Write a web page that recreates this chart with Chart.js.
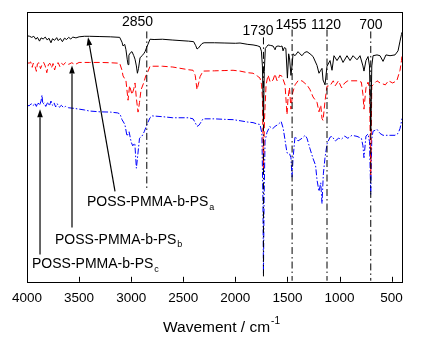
<!DOCTYPE html>
<html>
<head>
<meta charset="utf-8">
<script src="https://cdn.jsdelivr.net/npm/chart.js@4.4.1/dist/chart.umd.min.js"></script>
<style>
html, body { margin: 0; padding: 0; background: #fff; }
</style>
</head>
<body>
<canvas id="chart" width="422" height="348"></canvas>
<script>
// FTIR spectra of the three block copolymers (transmittance, arbitrary offset)
const xTicks = [4000, 3500, 3000, 2500, 2000, 1500, 1000, 500];

// POSS-PMMA-b-PSa (black, solid)
const specA = [[4000,91.2],[3975,91.0],[3955,90.6],[3935,91.0],[3915,89.9],[3900,90.6],[3880,89.2],[3865,90.4],[3845,90.0],[3825,90.7],
	[3805,89.6],[3790,90.3],[3770,88.6],[3755,90.1],[3735,89.5],[3715,90.5],[3700,89.4],[3680,90.2],[3660,89.0],[3640,90.3],
	[3620,89.8],[3600,90.6],[3580,90.0],[3560,90.7],[3530,90.4],[3500,90.8],[3450,91.0],[3400,91.0],[3300,90.9],[3200,90.8],
	[3110,90.6],[3088,88.8],[3078,87.4],[3062,88.0],[3050,86.0],[3038,82.5],[3030,80.5],[3022,84.0],[3005,85.0],[2992,85.3],
	[2975,83.8],[2963,82.5],[2950,80.0],[2940,77.3],[2930,79.0],[2915,83.0],[2896,83.8],[2880,84.5],[2867,85.3],[2850,87.0],
	[2838,88.1],[2819,89.9],[2780,89.8],[2700,89.9],[2600,89.6],[2450,89.2],[2400,89.0],[2380,87.5],[2368,86.3],[2355,86.6],
	[2339,87.4],[2320,88.3],[2300,88.6],[2200,88.6],[2100,88.5],[2000,88.4],[1955,88.5],[1880,88.0],[1830,87.8],[1790,87.5],
	[1763,87.1],[1750,85.5],[1740,80.0],[1730,59.4],[1722,78.0],[1712,86.5],[1700,87.1],[1686,87.8],[1660,87.6],[1638,87.4],
	[1625,86.5],[1619,86.0],[1608,87.2],[1590,87.4],[1565,87.2],[1552,87.4],[1542,85.6],[1530,86.8],[1515,86.5],[1500,75.5],
	[1488,84.5],[1480,83.0],[1466,76.5],[1456,80.0],[1446,84.5],[1427,83.8],[1398,85.3],[1380,84.5],[1360,83.8],[1335,85.0],
	[1312,85.3],[1283,84.5],[1254,83.5],[1216,80.2],[1197,77.3],[1180,78.4],[1168,79.1],[1158,74.8],[1139,73.0],[1120,79.9],
	[1091,82.0],[1072,78.4],[1053,83.8],[1024,82.0],[995,83.8],[966,81.3],[928,83.8],[899,82.0],[870,83.8],[832,82.3],
	[803,83.8],[775,80.0],[765,78.1],[746,82.0],[726,83.5],[712,80.0],[700,55.8],[690,80.0],[678,83.8],[640,84.1],
	[611,83.8],[582,81.7],[554,84.1],[515,83.8],[467,84.1],[438,85.6],[419,89.2],[405,91.7],[400,92.5]];

// POSS-PMMA-b-PSb (red, dashed)
const specB = [[4000,81.3],[3980,81.0],[3965,81.5],[3950,79.5],[3940,81.0],[3925,80.2],[3910,78.0],[3900,80.8],[3885,81.2],[3870,79.0],
	[3855,80.6],[3840,81.3],[3825,80.0],[3810,77.5],[3795,80.5],[3780,81.0],[3765,79.3],[3750,80.9],[3735,78.5],[3720,80.7],
	[3700,81.2],[3685,79.8],[3670,81.0],[3650,80.4],[3630,81.3],[3600,80.6],[3570,81.2],[3540,80.5],[3500,81.3],[3400,81.3],
	[3300,81.3],[3200,81.2],[3110,81.0],[3088,78.4],[3078,76.3],[3050,74.5],[3030,67.3],[3015,72.7],[2992,69.4],[2975,71.5],
	[2963,73.7],[2950,68.0],[2934,62.9],[2920,66.5],[2905,71.2],[2880,73.7],[2860,76.3],[2838,78.0],[2819,79.9],[2790,79.9],
	[2700,79.9],[2600,79.6],[2450,78.6],[2406,78.4],[2385,76.5],[2368,71.2],[2350,74.0],[2339,76.0],[2310,78.1],[2200,78.2],
	[2100,78.3],[2022,78.4],[1955,78.1],[1880,77.5],[1830,77.3],[1790,76.3],[1763,75.5],[1748,73.0],[1740,68.0],[1730,42.0],
	[1720,60.0],[1705,73.0],[1686,76.6],[1665,74.0],[1638,74.8],[1619,77.0],[1600,74.5],[1590,74.8],[1575,76.6],[1552,76.2],
	[1523,73.0],[1504,62.0],[1494,68.0],[1480,72.0],[1466,64.0],[1450,70.0],[1427,73.0],[1398,74.5],[1360,74.5],[1330,73.5],
	[1312,73.0],[1283,71.2],[1254,68.5],[1216,66.5],[1197,63.0],[1180,65.5],[1168,60.5],[1158,59.8],[1139,67.0],[1120,72.5],
	[1091,72.7],[1060,74.5],[1040,72.7],[1010,74.5],[980,71.9],[950,73.7],[920,74.5],[880,74.5],[832,74.5],[790,74.0],
	[775,69.4],[765,64.0],[746,71.9],[726,74.0],[712,72.0],[700,39.6],[690,72.5],[678,73.0],[640,74.5],[611,73.7],
	[560,73.0],[530,74.5],[490,73.7],[450,74.5],[419,78.4],[405,82.0],[400,84.0]];

// POSS-PMMA-b-PSc (blue, dash-dot)
const specC = [[4000,65.5],[3980,65.2],[3960,66.0],[3940,65.3],[3925,66.2],[3910,65.0],[3895,66.5],[3880,65.4],[3865,67.0],[3856,69.2],
	[3848,65.8],[3835,66.3],[3820,65.0],[3800,66.6],[3785,65.2],[3770,67.0],[3755,65.4],[3740,66.3],[3725,64.8],[3710,66.0],
	[3690,64.7],[3670,65.4],[3650,64.6],[3630,65.0],[3600,64.5],[3550,64.3],[3500,64.0],[3450,63.7],[3400,63.3],[3300,63.0],
	[3200,62.9],[3130,62.6],[3107,62.2],[3088,60.1],[3060,58.3],[3040,54.0],[3020,55.6],[3000,51.8],[2985,50.4],[2965,51.4],
	[2950,42.1],[2940,45.7],[2920,53.2],[2896,54.0],[2875,55.6],[2845,58.6],[2819,60.8],[2800,61.5],[2700,61.2],[2600,60.8],
	[2450,60.8],[2406,60.4],[2385,59.0],[2368,57.6],[2350,58.0],[2339,58.6],[2310,60.4],[2200,60.4],[2100,60.2],[2022,60.1],
	[1955,59.7],[1880,59.2],[1830,59.0],[1790,58.5],[1763,58.3],[1745,55.0],[1735,30.0],[1730,3.0],[1724,30.0],[1715,52.2],
	[1696,55.4],[1670,57.5],[1640,56.8],[1619,57.6],[1590,58.3],[1560,59.4],[1540,56.8],[1504,47.8],[1480,47.5],[1466,46.0],
	[1456,38.8],[1446,45.7],[1427,53.9],[1398,52.2],[1360,53.2],[1330,54.3],[1312,53.2],[1283,49.3],[1254,45.7],[1230,43.2],
	[1216,37.8],[1197,33.5],[1180,36.7],[1168,29.0],[1155,40.0],[1139,46.0],[1120,51.1],[1091,53.6],[1072,53.9],[1040,52.2],
	[1010,53.2],[980,52.9],[950,54.0],[920,53.2],[880,54.3],[832,53.9],[790,53.2],[775,50.4],[765,46.0],[746,54.0],
	[726,54.8],[712,52.0],[700,32.4],[690,53.0],[678,55.8],[640,56.5],[611,55.0],[582,54.3],[554,54.3],[515,54.3],
	[467,54.3],[438,55.0],[419,56.8],[405,59.4],[400,60.5]];

// marked bands
const peaks = [2850, 1730, 1455, 1120, 700];
const peakTop = [92.8, 90.6, 93.5, 93.5, 92.8];
const peakBottom = [33.8, 1.1, 0.4, 0.4, 0.4];
const peakLabelX = [2939, 1782, 1466, 1130, 698];
const peakLabelY = [96.4, 92.8, 95.3, 95.0, 95.3];

// sample names and their arrows
const samples = ["a", "b", "c"];
const nameX = [3424, 3731, 3952];
const nameY = [29.5, 15.5, 6.5];
const arrowFrom = [[3155, 33.5], [3568, 20.1], [3875, 10.1]];
const arrowTo = [[3414, 90.6], [3568, 80.2], [3875, 64.0]];

const FONT = "'Liberation Sans', Arial, Helvetica, sans-serif";
Chart.defaults.font.family = FONT;

function toXY(arr){
	return arr.map(p => ({x: p[0], y: p[1]}));
}

function drawArrow(ctx, x1, y1, x2, y2){
	let ang = Math.atan2(y2 - y1, x2 - x1);
	let len = 8, w = 2.8;
	let bx = x2 - len * Math.cos(ang), by = y2 - len * Math.sin(ang);
	ctx.beginPath();
	ctx.moveTo(x1, y1);
	ctx.lineTo(bx, by);
	ctx.stroke();
	ctx.beginPath();
	ctx.moveTo(x2, y2);
	ctx.lineTo(bx + w * Math.sin(ang), by - w * Math.cos(ang));
	ctx.lineTo(bx - w * Math.sin(ang), by + w * Math.cos(ang));
	ctx.closePath();
	ctx.fill();
}

const extras = {
	id: "extras",
	afterDraw(chart){
		let ctx = chart.ctx, a = chart.chartArea;
		let sx = chart.scales.x, sy = chart.scales.y;
		ctx.save();
		ctx.strokeStyle = "#000";
		ctx.fillStyle = "#000";
		ctx.lineWidth = 1;
		// frame
		ctx.strokeRect(Math.round(a.left) + 0.5, Math.round(a.top) + 0.5, Math.round(a.right - a.left), Math.round(a.bottom - a.top));
		// inward ticks
		ctx.beginPath();
		for(let i = 0; i < xTicks.length; i++){
			let px = Math.round(sx.getPixelForValue(xTicks[i])) + 0.5;
			ctx.moveTo(px, a.bottom);
			ctx.lineTo(px, a.bottom - 5);
		}
		ctx.stroke();

		// band labels
		ctx.font = "14px " + FONT;
		ctx.textAlign = "center";
		ctx.textBaseline = "middle";
		for(let i = 0; i < peaks.length; i++){
			ctx.fillText(String(peaks[i]), sx.getPixelForValue(peakLabelX[i]), sy.getPixelForValue(peakLabelY[i]));
		}

		// sample names with subscripts
		ctx.textAlign = "left";
		for(let i = 0; i < samples.length; i++){
			let px = sx.getPixelForValue(nameX[i]), py = sy.getPixelForValue(nameY[i]);
			ctx.font = "14px " + FONT;
			let main = "POSS-PMMA-b-PS";
			ctx.fillText(main, px, py);
			let w = ctx.measureText(main).width;
			ctx.font = "9px " + FONT;
			ctx.fillText(samples[i], px + w + 1, py + 5);
		}

		// arrows
		ctx.lineWidth = 1.2;
		for(let i = 0; i < arrowFrom.length; i++){
			drawArrow(ctx,
				sx.getPixelForValue(arrowFrom[i][0]), sy.getPixelForValue(arrowFrom[i][1]),
				sx.getPixelForValue(arrowTo[i][0]), sy.getPixelForValue(arrowTo[i][1]));
		}

		// axis title with superscript
		ctx.font = "15.5px " + FONT;
		ctx.textBaseline = "middle";
		let t = "Wavement / cm";
		let tx = a.left + 136, ty = 328;
		ctx.fillText(t, tx, ty);
		let tw = ctx.measureText(t).width;
		ctx.font = "10px " + FONT;
		ctx.fillText("-1", tx + tw + 1, ty - 7);
		ctx.restore();
	}
};

let dataSets = [];
for(let i = 0; i < peaks.length; i++){
	dataSets[dataSets.length] = {
		data: [{x: peaks[i], y: peakTop[i]}, {x: peaks[i], y: peakBottom[i]}],
		borderColor: "#000",
		borderWidth: 1,
		borderDash: [7, 3, 1.5, 3]
	};
}
dataSets[dataSets.length] = {label: "POSS-PMMA-b-PSa", data: toXY(specA), borderColor: "#000", borderWidth: 1};
dataSets[dataSets.length] = {label: "POSS-PMMA-b-PSb", data: toXY(specB), borderColor: "#ff0000", borderWidth: 1, borderDash: [6, 3]};
dataSets[dataSets.length] = {label: "POSS-PMMA-b-PSc", data: toXY(specC), borderColor: "#0000ff", borderWidth: 1, borderDash: [6, 2, 1.5, 2]};

let ctx = document.getElementById("chart").getContext("2d");
let chart = new Chart(ctx, {
	type: "line",
	data: {datasets: dataSets},
	options: {
		responsive: false,
		animation: false,
		elements: {point: {radius: 0}, line: {tension: 0, fill: false}},
		layout: {padding: {left: 27, top: 12, right: 20, bottom: 34}},
		plugins: {legend: {display: false}, tooltip: {enabled: false}},
		scales: {
			x: {
				type: "linear",
				reverse: true,
				min: 400,
				max: 4000,
				afterBuildTicks: s => { s.ticks = xTicks.map(v => ({value: v})); },
				grid: {display: false, drawTicks: false},
				border: {display: false},
				ticks: {color: "#000", font: {size: 13.5}, padding: 8, maxRotation: 0, autoSkip: false, callback: v => String(v)}
			},
			y: {
				display: false,
				min: 0,
				max: 100
			}
		}
	},
	plugins: [extras]
});
</script>
</body>
</html>
